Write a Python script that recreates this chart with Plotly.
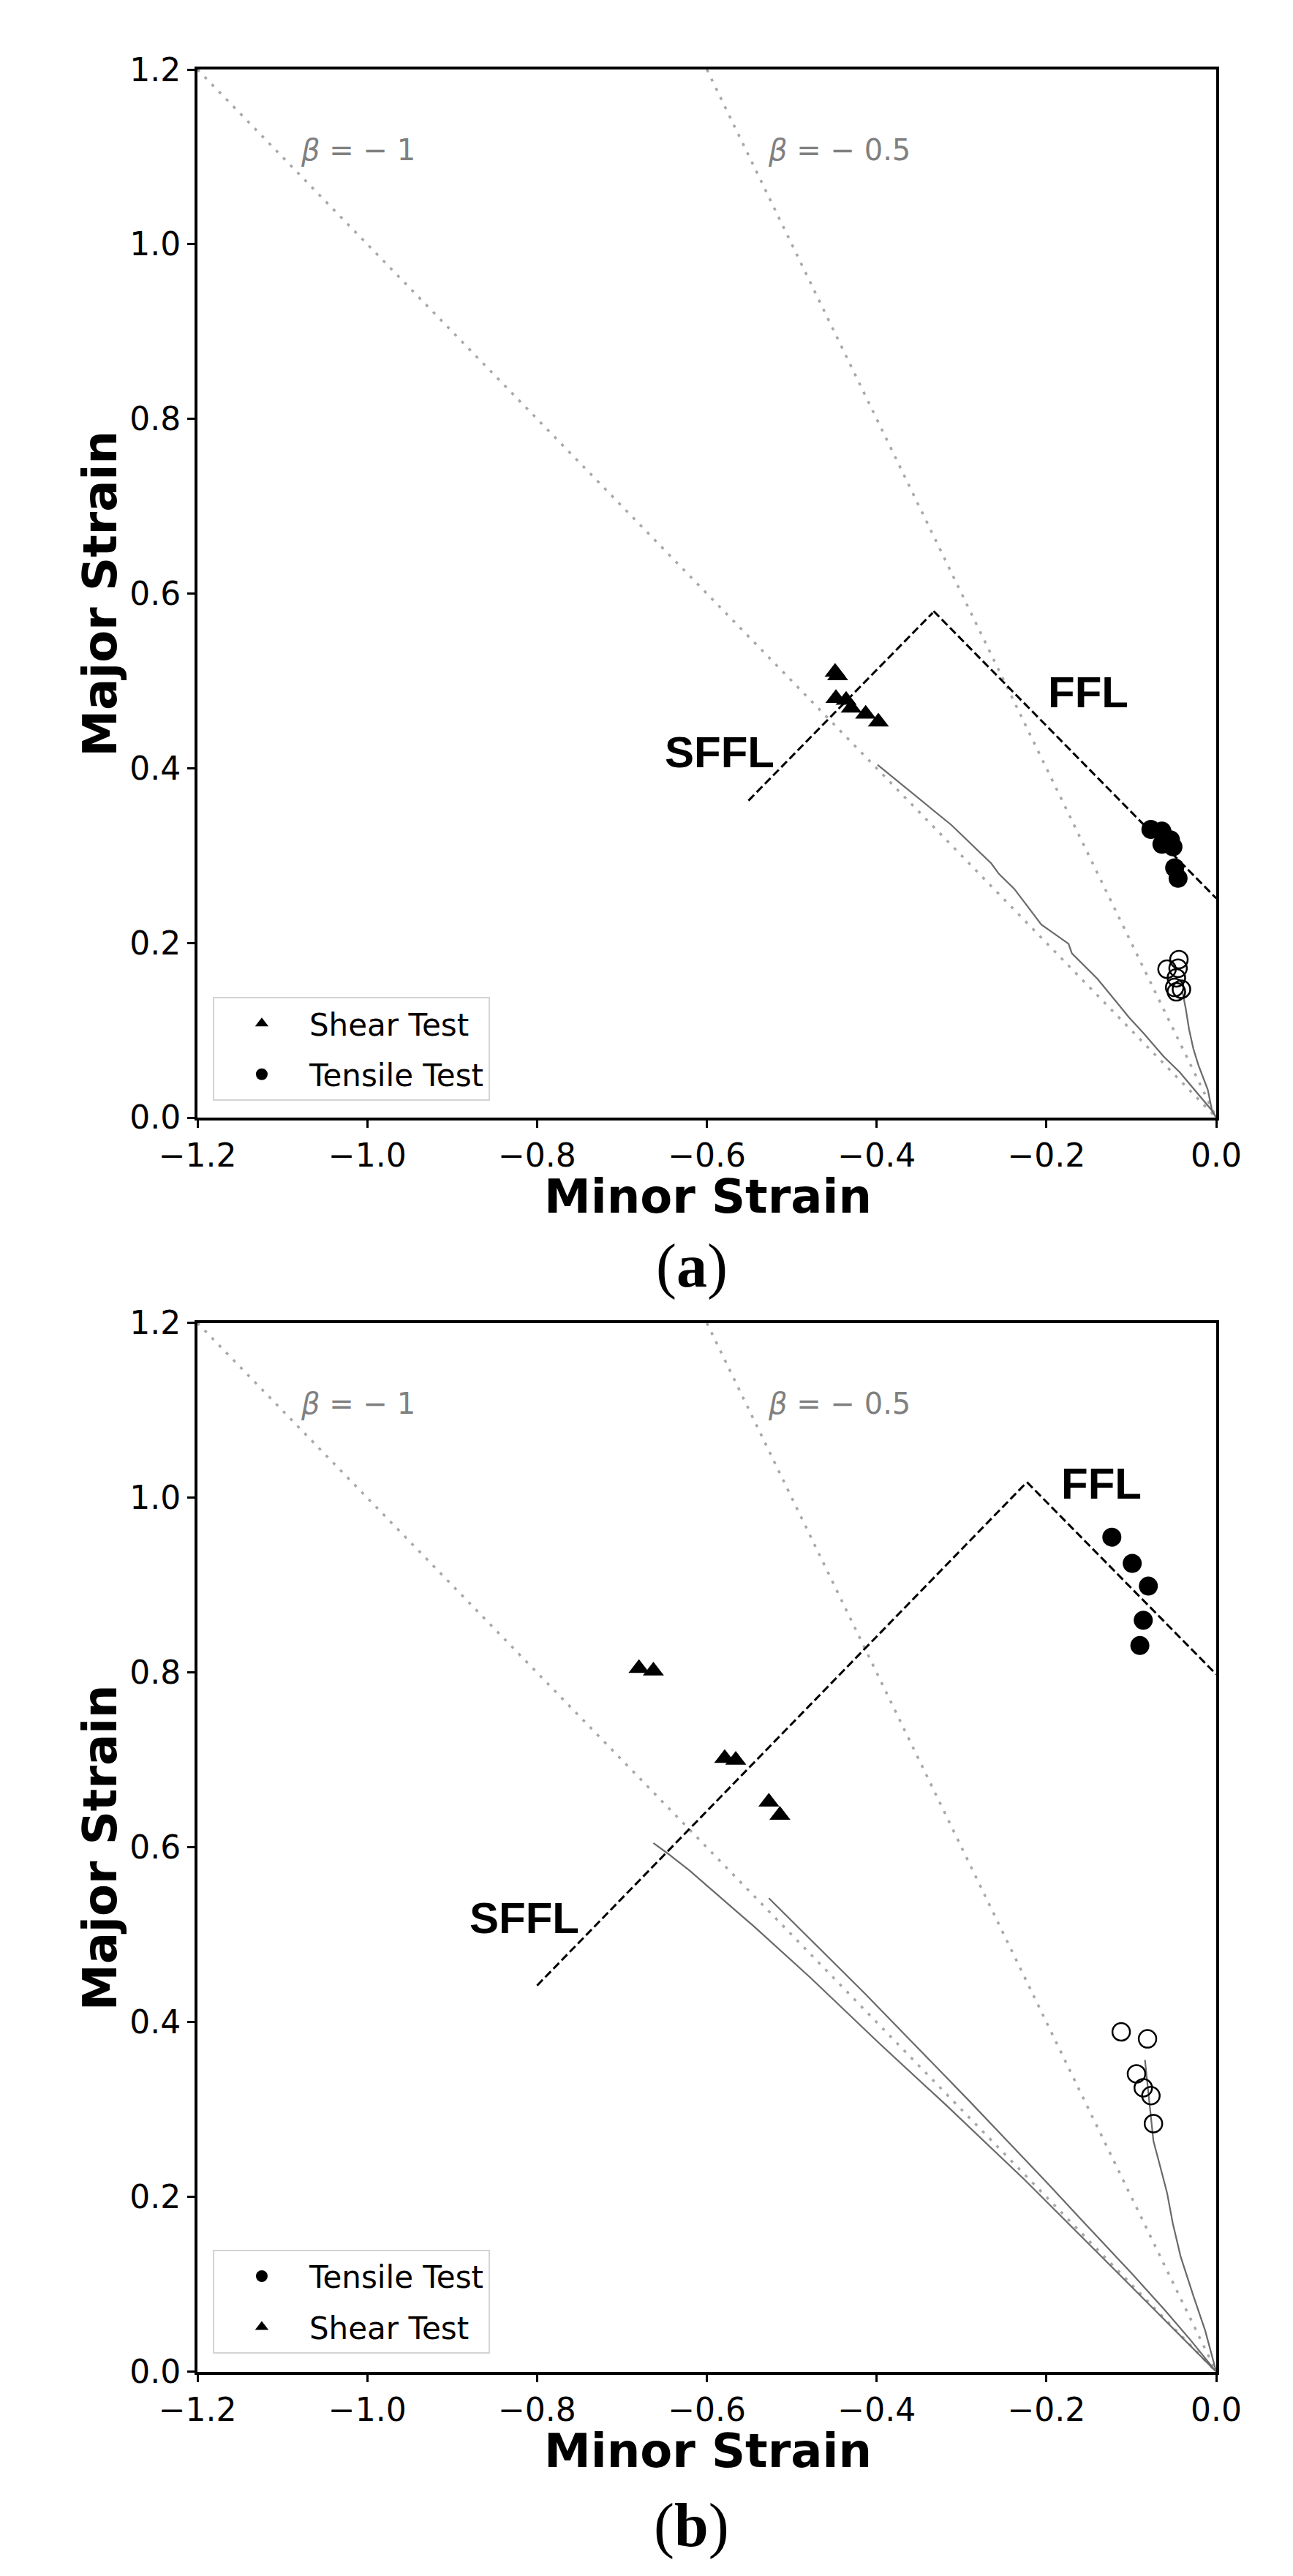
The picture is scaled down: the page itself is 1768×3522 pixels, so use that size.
import plotly.graph_objects as go

# ---------------- data ----------------
X_TICKS = [-1.2, -1.0, -0.8, -0.6, -0.4, -0.2, 0.0]
X_TICK_LABELS = ["−1.2", "−1.0", "−0.8", "−0.6", "−0.4", "−0.2", "0.0"]
Y_TICKS = [0.0, 0.2, 0.4, 0.6, 0.8, 1.0, 1.2]
Y_TICK_LABELS = ["0.0", "0.2", "0.4", "0.6", "0.8", "1.0", "1.2"]

BETA_M1_X = [-1.2, 0.0]
BETA_M1_Y = [1.2, 0.0]
BETA_M05_X = [-0.6, 0.0]
BETA_M05_Y = [1.2, 0.0]

# panel (a)
A_SHEAR_X = [-0.449, -0.446, -0.448, -0.436, -0.430, -0.413, -0.398]
A_SHEAR_Y = [0.510, 0.506, 0.480, 0.478, 0.469, 0.462, 0.453]
A_TENS_X = [-0.077, -0.064, -0.054, -0.064, -0.051, -0.049, -0.045]
A_TENS_Y = [0.330, 0.328, 0.318, 0.313, 0.310, 0.286, 0.274]
A_OPEN_X = [-0.058, -0.044, -0.045, -0.047, -0.049, -0.041, -0.047]
A_OPEN_Y = [0.170, 0.181, 0.171, 0.160, 0.149, 0.147, 0.144]
A_FFL_X = [-0.333, 0.0]
A_FFL_Y = [0.580, 0.251]
A_SFFL_X = [-0.551, -0.334]
A_SFFL_Y = [0.363, 0.578]
A_PATH1_X = [-0.399, -0.312, -0.265, -0.256, -0.238, -0.206, -0.174, -0.170,
             -0.140, -0.103, -0.085, -0.062, -0.043, -0.005, 0.0]
A_PATH1_Y = [0.404, 0.335, 0.291, 0.279, 0.262, 0.221, 0.199, 0.188,
             0.159, 0.115, 0.096, 0.070, 0.052, 0.008, 0.0]
A_PATH2_X = [-0.040, -0.036, -0.032, -0.027, -0.021, -0.010, -0.005, 0.0]
A_PATH2_Y = [0.145, 0.125, 0.101, 0.079, 0.060, 0.032, 0.008, 0.0]

# panel (b)
B_SHEAR_X = [-0.680, -0.663, -0.579, -0.566, -0.527, -0.514]
B_SHEAR_Y = [0.805, 0.802, 0.702, 0.700, 0.652, 0.637]
B_TENS_X = [-0.123, -0.099, -0.080, -0.086, -0.090]
B_TENS_Y = [0.955, 0.925, 0.899, 0.860, 0.831]
B_OPEN_X = [-0.112, -0.081, -0.094, -0.086, -0.077, -0.074]
B_OPEN_Y = [0.389, 0.381, 0.341, 0.325, 0.316, 0.284]
B_FFL_X = [-0.223, 0.0]
B_FFL_Y = [1.018, 0.798]
B_SFFL_X = [-0.800, -0.225]
B_SFFL_Y = [0.442, 1.016]
B_PATH1_X = [-0.527, -0.470, -0.414, -0.360, -0.332, -0.290, -0.250, -0.200,
             -0.155, -0.100, -0.060, -0.030, 0.0]
B_PATH1_Y = [0.542, 0.487, 0.433, 0.379, 0.351, 0.309, 0.268, 0.217,
             0.170, 0.113, 0.070, 0.036, 0.0]
B_PATH2_X = [-0.663, -0.646, -0.621, -0.545, -0.478, -0.396, -0.318, -0.226, -0.120, 0.0]
B_PATH2_Y = [0.605, 0.593, 0.574, 0.510, 0.451, 0.375, 0.305, 0.220, 0.117, 0.0]
B_PATH3_X = [-0.084, -0.074, -0.065, -0.058, -0.051, -0.042, -0.027, -0.013, 0.0]
B_PATH3_Y = [0.357, 0.264, 0.231, 0.205, 0.169, 0.132, 0.087, 0.047, 0.0]

# ---------------- styling ----------------
W, H = 1768, 3522
DOT = dict(color="#a8a8a8", width=3.5, dash="4px,10px")
DASH = dict(color="black", width=3, dash="11px,5px")
PATH = dict(color="#6a6a6a", width=2.2)
TICKFONT = dict(family="DejaVu Sans", size=44, color="black")

def px(v):
    return v / W

def py(v):
    return 1 - v / H

fig = go.Figure()

def add_panel(xa, ya, leg, shear, tens, opn, ffl, sffl, paths, order):
    fig.add_trace(go.Scatter(x=BETA_M1_X, y=BETA_M1_Y, mode="lines", line=DOT,
                             xaxis=xa, yaxis=ya, showlegend=False, hoverinfo="skip"))
    fig.add_trace(go.Scatter(x=BETA_M05_X, y=BETA_M05_Y, mode="lines", line=DOT,
                             xaxis=xa, yaxis=ya, showlegend=False, hoverinfo="skip"))
    for (pxs, pys) in paths:
        fig.add_trace(go.Scatter(x=pxs, y=pys, mode="lines", line=PATH,
                                 xaxis=xa, yaxis=ya, showlegend=False))
    fig.add_trace(go.Scatter(x=ffl[0], y=ffl[1], mode="lines", line=DASH,
                             xaxis=xa, yaxis=ya, showlegend=False))
    fig.add_trace(go.Scatter(x=sffl[0], y=sffl[1], mode="lines", line=DASH,
                             xaxis=xa, yaxis=ya, showlegend=False))
    fig.add_trace(go.Scatter(x=opn[0], y=opn[1], mode="markers",
                             marker=dict(symbol="circle-open", size=24, color="black",
                                         line=dict(width=2.5, color="black")),
                             xaxis=xa, yaxis=ya, showlegend=False))
    tr_shear = go.Scatter(x=shear[0], y=shear[1], mode="markers", name="Shear Test",
                          marker=dict(symbol="triangle-up", size=25, color="black"),
                          xaxis=xa, yaxis=ya, legend=leg, legendgroup=leg + "s")
    tr_tens = go.Scatter(x=tens[0], y=tens[1], mode="markers", name="Tensile Test",
                         marker=dict(symbol="circle", size=26, color="black"),
                         xaxis=xa, yaxis=ya, legend=leg, legendgroup=leg + "t")
    if order == "shear_first":
        fig.add_trace(tr_shear); fig.add_trace(tr_tens)
    else:
        fig.add_trace(tr_tens); fig.add_trace(tr_shear)

add_panel("x", "y", "legend", (A_SHEAR_X, A_SHEAR_Y), (A_TENS_X, A_TENS_Y),
          (A_OPEN_X, A_OPEN_Y), (A_FFL_X, A_FFL_Y), (A_SFFL_X, A_SFFL_Y),
          [(A_PATH1_X, A_PATH1_Y), (A_PATH2_X, A_PATH2_Y)], "shear_first")
add_panel("x2", "y2", "legend2", (B_SHEAR_X, B_SHEAR_Y), (B_TENS_X, B_TENS_Y),
          (B_OPEN_X, B_OPEN_Y), (B_FFL_X, B_FFL_Y), (B_SFFL_X, B_SFFL_Y),
          [(B_PATH1_X, B_PATH1_Y), (B_PATH2_X, B_PATH2_Y), (B_PATH3_X, B_PATH3_Y)],
          "tensile_first")

axis_common = dict(showgrid=False, zeroline=False, showline=True, linewidth=4,
                   linecolor="black", mirror=True, ticks="outside", ticklen=10,
                   tickwidth=3, tickcolor="black", tickfont=TICKFONT)
xdom = [px(220), px(1686)]
fig.update_layout(
    width=W, height=H, margin=dict(l=0, r=0, t=0, b=0),
    paper_bgcolor="white", plot_bgcolor="white",
    xaxis=dict(domain=xdom, range=[-1.2, 0.0], tickvals=X_TICKS, ticktext=X_TICK_LABELS,
               anchor="y", **axis_common),
    yaxis=dict(domain=[py(1516), py(62)], range=[0.0, 1.2], tickvals=Y_TICKS,
               ticktext=Y_TICK_LABELS, anchor="x", **axis_common),
    xaxis2=dict(domain=xdom, range=[-1.2, 0.0], tickvals=X_TICKS, ticktext=X_TICK_LABELS,
                anchor="y2", **axis_common),
    yaxis2=dict(domain=[py(3256), py(1801)], range=[0.0, 1.2], tickvals=Y_TICKS,
                ticktext=Y_TICK_LABELS, anchor="x2", **axis_common),
)

legend_common = dict(font=dict(family="DejaVu Sans", size=42, color="black"),
                     bgcolor="rgba(255,255,255,0.8)", bordercolor="#d4d4d4", borderwidth=2,
                     xanchor="left", yanchor="bottom", itemwidth=120,
                     traceorder="grouped", tracegroupgap=12)
fig.update_layout(legend=dict(x=px(242), y=py(1493), **legend_common),
                  legend2=dict(x=px(242), y=py(3231), **legend_common))

ann = []
LABEL_FONT = dict(family="Liberation Sans", size=60, color="black", weight="bold")
BETA_FONT = dict(family="DejaVu Sans", size=40, color="#808080")
for xa, ya, sffl_pos, ffl_pos in [("x", "y", (-0.585, 0.418), (-0.151, 0.487)),
                                  ("x2", "y2", (-0.815, 0.519), (-0.135, 1.016))]:
    ann.append(dict(xref=xa, yref=ya, x=sffl_pos[0], y=sffl_pos[1], text="SFFL",
                    showarrow=False, font=LABEL_FONT))
    ann.append(dict(xref=xa, yref=ya, x=ffl_pos[0], y=ffl_pos[1], text="FFL",
                    showarrow=False, font=LABEL_FONT))
    ann.append(dict(xref=xa, yref=ya, x=-1.08, y=1.108, text="<i>β</i> = − 1",
                    showarrow=False, xanchor="left", font=BETA_FONT))
    ann.append(dict(xref=xa, yref=ya, x=-0.53, y=1.108, text="<i>β</i> = − 0.5",
                    showarrow=False, xanchor="left", font=BETA_FONT))

TITLE_FONT = dict(family="DejaVu Sans", size=64, color="black", weight="bold")
for top, bottom in [(62, 1516), (1801, 3256)]:
    ann.append(dict(xref="paper", yref="paper", x=px(954), y=py(bottom + 110),
                    text="Minor Strain", showarrow=False, font=TITLE_FONT, yanchor="middle",
                    borderpad=0))
    ann.append(dict(xref="paper", yref="paper", x=px(80), y=py((top + bottom) / 2),
                    text="Major Strain", showarrow=False, font=TITLE_FONT, textangle=-90,
                    xanchor="center", yanchor="middle"))
for cap_y, letter in [(1722, "a"), (3469, "b")]:
    ann.append(dict(xref="paper", yref="paper", x=px(931), y=py(cap_y),
                    text="(<b>" + letter + "</b>)", showarrow=False,
                    font=dict(family="Liberation Serif", size=84, color="black"),
                    yanchor="middle", borderpad=0))
fig.update_layout(annotations=ann)

fig.write_html("out.html")
